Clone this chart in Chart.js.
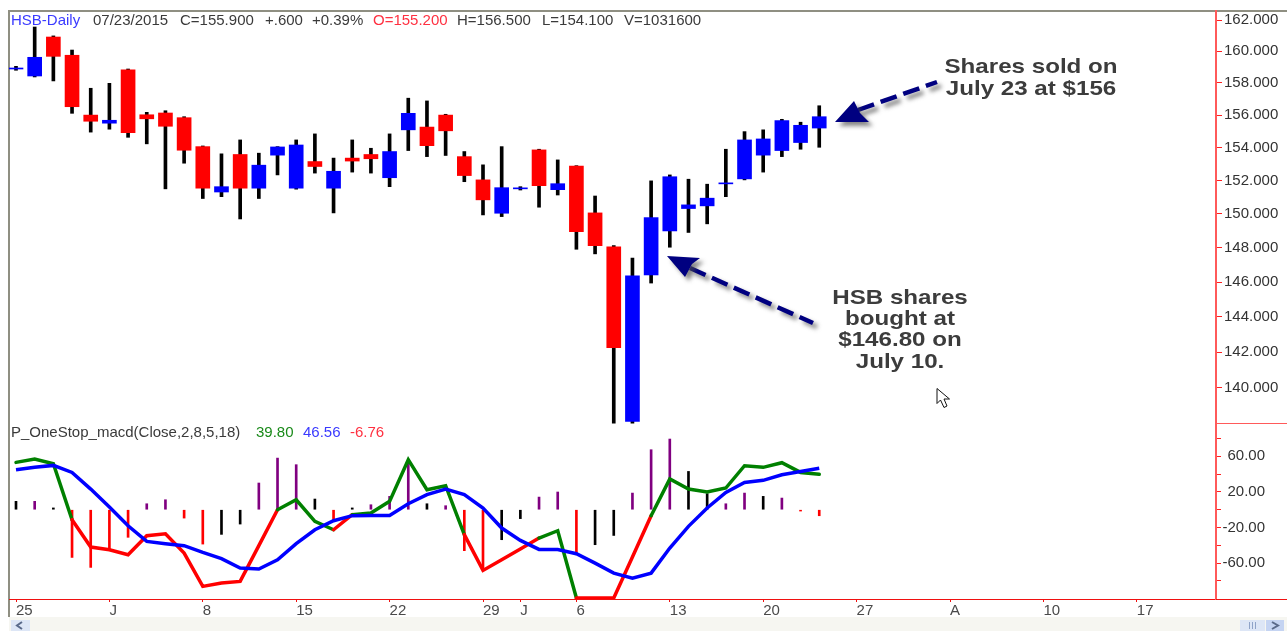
<!DOCTYPE html>
<html>
<head>
<meta charset="utf-8">
<title>HSB-Daily</title>
<style>html,body{margin:0;padding:0;background:#fff}canvas{display:block}</style>
<script src="https://cdn.jsdelivr.net/npm/chart.js@4/dist/chart.umd.min.js"></script>
</head>
<body>
<canvas id="c" width="1287" height="631"></canvas>
<script>
// Candles, one entry per trading day starting at 25 May 2015 (index 0)
const open  = [158.88,158.44,160.91,159.75,156.00,155.50,158.82,156.02,156.13,155.84,154.06,151.31,153.58,151.54,153.54,151.54,153.15,151.54,153.36,153.58,152.17,155.09,155.26,156.00,153.45,152.04,150.04,151.50,153.86,151.45,152.87,150.06,148.06,138.14,146.41,148.99,150.32,150.48,151.80,152.10,153.54,153.82,154.31,155.20];
const close = [158.92,159.62,159.68,156.52,155.62,155.68,154.91,155.77,155.31,153.84,151.54,151.63,151.54,152.93,154.04,154.16,152.85,152.56,153.18,153.32,153.76,156.11,154.12,155.03,152.30,150.84,151.57,151.56,151.69,151.81,148.94,148.12,142.25,146.36,149.78,152.23,150.54,150.94,151.84,154.47,154.53,155.66,155.37,155.90];
const high  = [159.05,161.55,160.98,160.08,157.67,157.98,158.88,156.17,156.27,155.90,154.10,153.62,154.47,153.66,154.06,154.47,154.84,153.36,154.47,153.96,154.84,157.05,156.88,156.05,153.76,152.95,154.06,151.63,153.90,153.25,152.90,151.07,148.12,147.39,151.98,152.34,152.08,151.78,153.90,154.98,155.09,155.74,155.56,156.58];
const low   = [158.80,158.38,158.13,156.11,154.95,155.13,154.63,154.23,151.50,153.05,150.92,151.03,149.70,150.92,152.34,151.48,152.45,150.06,152.51,152.45,151.63,153.82,153.45,153.52,151.93,149.94,149.84,151.43,150.40,151.13,147.91,147.64,138.05,138.04,145.94,148.03,148.90,149.41,151.03,152.04,152.51,153.45,153.90,154.02];

// Oscillator panel
const macd   = [53.2,57,51.7,-11.2,-42,-45,-50.6,-29.2,-27,-48.7,-86.1,-82.4,-80.5,-40.4,0,11.2,-13,-22.5,-5.6,-3.6,9.4,56.2,22.5,27,-28,-68.2,-56.2,-44.2,-31.8,-23.6,-99.2,-99.2,-99.2,-53.2,-6.7,34.5,23.2,19.9,24.4,49.4,47.6,52.8,41.9,39.8];
const signal = [45,47.6,49.8,41.9,23.2,3,-18,-35.6,-38.2,-40.4,-48,-55,-65.5,-66.6,-56.2,-38.2,-22.5,-12.4,-6.7,-6.4,-6.4,6.7,16.9,23.2,16.9,1.9,-20.6,-34.5,-44.6,-44.6,-49.4,-60,-71.2,-76.8,-71.2,-43,-18.7,1.9,19.4,30.7,33,39.3,43,46.56];
const hist   = [9.4,9.4,2,-53.6,-64.8,-45,-31,6.7,11.2,-9.4,-38.6,-27.7,-16.1,30,58,50.6,12,-11.2,2,5.6,15,56.2,6.7,4.5,-46,-67.4,-33.7,-10,14.2,19.9,-50.6,-39.3,-28.9,18.7,67.4,79.4,43,18,6.7,18.7,15,13.1,-1.5,-6.76];
const histKind = ['K','P','K','R','R','R','R','P','P','R','R','K','K','P','P','P','K','R','K','P','P','P','K','P','R','R','K','K','P','P','R','K','K','P','P','P','K','K','P','P','K','P','R','R'];
const macdFallingSpans = [[3,14],[17,18],[24,28],[30,34]];

// Axis ticks
const priceTicks = [140,142,144,146,148,150,152,154,156,158,160,162];
const oscTicks = [80,60,40,20,0,-20,-40,-60,-80];
const oscLabelled = [60,20,-20,-60];
const dateTickIndex = [0,5,10,15,20,25,27,30,35,40,45,50,55,60];
const dateTickLabel = ['25','J','8','15','22','29','J','6','13','20','27','A','10','17'];

const FONT = '"Liberation Sans", Arial, sans-serif';
const idx = open.map((_, i) => i);
const isDown = i => close[i] < open[i];
const wickData = idx.map(i => ({x: i, y: [low[i], high[i]]}));
const bodyData = idx.map(i => ({x: i, y: [Math.min(open[i], close[i]), Math.max(open[i], close[i])]}));
const histData = idx.map(i => ({x: i, y: hist[i]}));
const macdData = idx.map(i => ({x: i, y: macd[i]}));
const signalData = idx.map(i => ({x: i, y: signal[i]}));
const histColour = {P: '#800080', K: '#000000', R: '#ff0000'};
const falling = i => macdFallingSpans.some(s => i >= s[0] && i < s[1]);

function dashedArrow(ctx, head, from, to) {
  ctx.save();
  ctx.shadowColor = 'rgba(70,70,70,0.65)';
  ctx.shadowBlur = 4;
  ctx.shadowOffsetX = 4;
  ctx.shadowOffsetY = 4;
  ctx.strokeStyle = '#000080';
  ctx.lineWidth = 4.5;
  ctx.setLineDash([17, 7]);
  ctx.beginPath();
  ctx.moveTo(from[0], from[1]);
  ctx.lineTo(to[0], to[1]);
  ctx.stroke();
  ctx.setLineDash([]);
  ctx.fillStyle = '#000080';
  ctx.beginPath();
  head.forEach((p, k) => k ? ctx.lineTo(p[0], p[1]) : ctx.moveTo(p[0], p[1]));
  ctx.closePath();
  ctx.fill();
  ctx.restore();
}

function wideText(ctx, text, cx, y) {
  ctx.save();
  ctx.translate(cx, y);
  ctx.scale(1.15, 1);
  ctx.fillText(text, 0, 0);
  ctx.restore();
}

const fitRightAxis = s => {
  s.width = 71;
  s.paddingTop = 0;
  s.paddingBottom = 0;
};

const chrome = {
  id: 'chrome',
  afterLayout(chart) {
    // the oscillator's labels are right-aligned short of the window edge
    chart.scales.osc.right = 1265;
  },
  beforeDraw(chart) {
    const c = chart.ctx;
    c.save();
    c.fillStyle = '#ffffff';
    c.fillRect(0, 0, 1287, 631);
    c.fillStyle = '#f6f6f1';
    c.fillRect(9, 617, 1278, 14);
    c.fillStyle = '#dde6f6';
    c.fillRect(11, 620, 19, 11);
    c.fillRect(1240, 620, 25, 11);
    c.fillStyle = '#c5d4f2';
    c.fillRect(1266, 620, 18, 11);
    c.strokeStyle = '#5a6a8a';
    c.lineWidth = 2;
    c.beginPath();
    c.moveTo(22, 622); c.lineTo(17, 625.5); c.lineTo(22, 629);
    c.moveTo(1272, 622); c.lineTo(1278, 625.5); c.lineTo(1272, 629);
    c.stroke();
    c.lineWidth = 1;
    c.strokeStyle = '#8fa3c8';
    c.beginPath();
    for (const x of [1249.5, 1252.5, 1255.5]) { c.moveTo(x, 622); c.lineTo(x, 629); }
    c.stroke();
    c.fillStyle = '#8f8f82';
    c.fillRect(9, 10, 1278, 2);
    c.fillRect(8, 10, 2, 607);
    c.restore();
  },
  afterDraw(chart) {
    const c = chart.ctx;
    c.save();
    c.fillStyle = '#ff5a5a';
    c.fillRect(1216, 423, 71, 1);
    c.fillStyle = '#f01010';
    c.fillRect(1216, 599, 71, 1);

    c.textBaseline = 'alphabetic';
    c.textAlign = 'left';
    c.font = '15px ' + FONT;
    const header = [
      ['HSB-Daily', 11, '#3a3aff'], ['07/23/2015', 93, '#3a3a3a'], ['C=155.900', 180, '#3a3a3a'],
      ['+.600', 265, '#3a3a3a'], ['+0.39%', 312, '#3a3a3a'], ['O=155.200', 373, '#ff3040'],
      ['H=156.500', 457, '#3a3a3a'], ['L=154.100', 542, '#3a3a3a'], ['V=1031600', 624, '#3a3a3a']
    ];
    header.forEach(h => { c.fillStyle = h[2]; c.fillText(h[0], h[1], 25); });
    const sub = [
      ['P_OneStop_macd(Close,2,8,5,18)', 11, '#3a3a3a'], ['39.80', 256, '#1a8a1a'],
      ['46.56', 303, '#3a3aff'], ['-6.76', 350, '#ff3040']
    ];
    sub.forEach(h => { c.fillStyle = h[2]; c.fillText(h[0], h[1], 437); });

    dashedArrow(c, [[667, 256], [700, 258], [692, 264], [685, 277]], [690, 268], [813, 323]);
    dashedArrow(c, [[835, 122], [854, 101], [860, 113], [869, 122]], [858, 110], [937, 82]);

    c.fillStyle = '#3c3c3c';
    c.textAlign = 'center';
    c.font = 'bold 21px ' + FONT;
    [['Shares sold on', 73], ['July 23 at $156', 95]].forEach(t => wideText(c, t[0], 1031, t[1]));
    [['HSB shares', 304], ['bought at', 325], ['$146.80 on', 346], ['July 10.', 368]].forEach(t => wideText(c, t[0], 900, t[1]));

    c.fillStyle = '#ffffff';
    c.strokeStyle = '#111111';
    c.lineWidth = 1;
    c.beginPath();
    c.moveTo(937, 388.5); c.lineTo(937, 403.5); c.lineTo(940.5, 400); c.lineTo(944, 407.5);
    c.lineTo(947, 406); c.lineTo(944, 399); c.lineTo(949.5, 399);
    c.closePath();
    c.fill();
    c.stroke();
    c.restore();
  }
};

const xMin = -7 / 18.68;
const xMax = 1200 / 18.68;

new Chart(document.getElementById('c'), {
  data: {
    datasets: [
      {type: 'bar', label: 'High-Low', data: wickData, yAxisID: 'y', order: 6, grouped: false, barThickness: 3, backgroundColor: '#000000'},
      {type: 'bar', label: 'Open-Close', data: bodyData, yAxisID: 'y', order: 5, grouped: false, barThickness: 14, minBarLength: 1,
        backgroundColor: c => isDown(c.dataIndex) ? '#ff0000' : '#0000ff'},
      {type: 'bar', label: 'Histogram', data: histData, yAxisID: 'osc', order: 4, grouped: false, barThickness: 2,
        backgroundColor: c => histColour[histKind[c.dataIndex]]},
      {type: 'line', label: 'MACD', data: macdData, yAxisID: 'osc', order: 3, borderWidth: 3.5, pointRadius: 0, tension: 0, borderColor: '#008000',
        borderCapStyle: 'round', segment: {borderColor: c => falling(c.p0DataIndex) ? '#ff0000' : '#008000'}},
      {type: 'line', label: 'Signal', data: signalData, yAxisID: 'osc', order: 2, borderWidth: 3.5, pointRadius: 0, tension: 0, borderColor: '#0000ff'}
    ]
  },
  options: {
    responsive: false,
    animation: false,
    devicePixelRatio: 1,
    layout: {autoPadding: false, padding: {left: 9, top: 11, right: 0, bottom: 0}},
    plugins: {legend: {display: false}, title: {display: false}, tooltip: {enabled: false}},
    scales: {
      x: {
        type: 'linear', position: 'bottom', min: xMin, max: xMax, offset: false,
        afterFit: s => { s.height = 32; },
        afterBuildTicks: s => { s.ticks = dateTickIndex.map(v => ({value: v})); },
        border: {color: '#f01010', width: 1},
        grid: {offset: false, drawOnChartArea: false, color: '#f01010', tickLength: 3},
        ticks: {
          autoSkip: false, maxRotation: 0, align: 'start', padding: 0, color: '#4a4a4a',
          font: {family: FONT, size: 15},
          callback: v => dateTickLabel[dateTickIndex.indexOf(v)]
        }
      },
      y: {
        type: 'logarithmic', position: 'right', stack: 'panes', stackWeight: 413, min: 138, max: 162.58,
        afterFit: fitRightAxis,
        afterBuildTicks: s => { s.ticks = priceTicks.map(v => ({value: v})); },
        border: {color: '#ff5a5a', width: 2},
        grid: {drawOnChartArea: false, color: '#ff2020', tickLength: 6},
        ticks: {
          autoSkip: false, padding: 2, color: '#333333', font: {family: FONT, size: 15},
          callback: v => Number(v).toFixed(3)
        }
      },
      osc: {
        type: 'linear', position: 'right', stack: 'panes', stackWeight: 175, min: -100.3, max: 96.3,
        afterFit: fitRightAxis,
        afterBuildTicks: s => { s.ticks = oscTicks.map(v => ({value: v})); },
        border: {color: '#ff5a5a', width: 2},
        grid: {drawOnChartArea: false, color: '#ff2020', tickLength: 5},
        ticks: {
          autoSkip: false, padding: 2, crossAlign: 'far', color: '#333333', font: {family: FONT, size: 15},
          callback: v => oscLabelled.includes(v) ? Number(v).toFixed(2) : ''
        }
      }
    }
  },
  plugins: [chrome]
});
</script>
</body>
</html>
